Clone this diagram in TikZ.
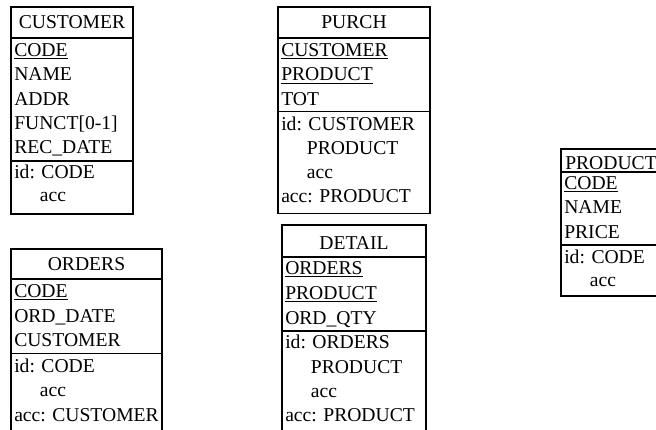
\documentclass[tikz,border=0pt]{standalone}
\usepackage{fontspec}
\setmainfont{Liberation Serif}
\newcommand{\ind}{\phantom{id:\ }}
\begin{document}
\begin{tikzpicture}[x=0.75pt,y=-0.75pt,
  box/.style={draw=black, line width=0.8pt},
  txt/.style={anchor=base west, inner sep=0pt, font=\fontsize{14.7}{18}\selectfont},
  ttl/.style={anchor=base, inner sep=0pt, font=\fontsize{14.7}{18}\selectfont}]
\useasboundingbox (0,0) rectangle (656,429);
\clip (0,0) rectangle (656,429);

% CUSTOMER
\draw[box] (11,7) rectangle (133,214);
\draw[box] (11,38) -- (133,38);
\draw[box] (11,161) -- (133,161);
\node[ttl] (cust-t) at (72,28.5) {CUSTOMER};
\node[txt] (cust-a1) at (14,56.5) {\underline{CODE}};
\node[txt] (cust-a2) at (14,80.8) {NAME};
\node[txt] (cust-a3) at (14,105.1) {ADDR};
\node[txt] (cust-a4) at (14,129.4) {FUNCT[0-1]};
\node[txt] (cust-a5) at (14,153.7) {REC\_DATE};
\node[txt] (cust-i1) at (14,178.5) {id: CODE};
\node[txt] (cust-i2) at (14,201) {\ind acc};

% PURCH
\draw[box] (278,7) rectangle (430,213.5);
\draw[box] (278,38) -- (430,38);
\draw[box] (278,111.5) -- (430,111.5);
\node[ttl] (purch-t) at (354,28.5) {PURCH};
\node[txt] (purch-a1) at (281,56.5) {\underline{CUSTOMER}};
\node[txt] (purch-a2) at (281,80.8) {\underline{PRODUCT}};
\node[txt] (purch-a3) at (281,105.1) {TOT};
\node[txt] (purch-i1) at (281,130) {id: CUSTOMER};
\node[txt] (purch-i2) at (281,154.2) {\ind PRODUCT};
\node[txt] (purch-i3) at (281,178.4) {\ind acc};
\node[txt] (purch-i4) at (281,202.6) {acc: PRODUCT};

% ORDERS
\draw[box] (11,249) rectangle (162,440);
\draw[box] (11,279) -- (162,279);
\draw[box] (11,353.5) -- (162,353.5);
\node[ttl] (ord-t) at (86.5,270.5) {ORDERS};
\node[txt] (ord-a1) at (14,297.5) {\underline{CODE}};
\node[txt] (ord-a2) at (14,322) {ORD\_DATE};
\node[txt] (ord-a3) at (14,346.5) {CUSTOMER};
\node[txt] (ord-i1) at (14,372) {id: CODE};
\node[txt] (ord-i2) at (14,396.5) {\ind acc};
\node[txt] (ord-i3) at (14,421) {acc: CUSTOMER};

% DETAIL
\draw[box] (282,225) rectangle (426,440);
\draw[box] (282,257) -- (426,257);
\draw[box] (282,331) -- (426,331);
\node[ttl] (det-t) at (354,249.5) {DETAIL};
\node[txt] (det-a1) at (285,274.5) {\underline{ORDERS}};
\node[txt] (det-a2) at (285,299.5) {\underline{PRODUCT}};
\node[txt] (det-a3) at (285,324.5) {ORD\_QTY};
\node[txt] (det-i1) at (285,348.5) {id: ORDERS};
\node[txt] (det-i2) at (285,373) {\ind PRODUCT};
\node[txt] (det-i3) at (285,397) {\ind acc};
\node[txt] (det-i4) at (285,421.5) {acc: PRODUCT};

% PRODUCT
\draw[box] (561,149) rectangle (663,296);
\draw[box] (561,172) -- (663,172);
\draw[box] (561,245) -- (663,245);
\node[ttl] (prod-t) at (611,169) {PRODUCT};
\node[txt] (prod-a1) at (564,189.5) {\underline{CODE}};
\node[txt] (prod-a2) at (564,213.8) {NAME};
\node[txt] (prod-a3) at (564,238.1) {PRICE};
\node[txt] (prod-i1) at (564,263) {id: CODE};
\node[txt] (prod-i2) at (564,286) {\ind acc};
\end{tikzpicture}
\end{document}
